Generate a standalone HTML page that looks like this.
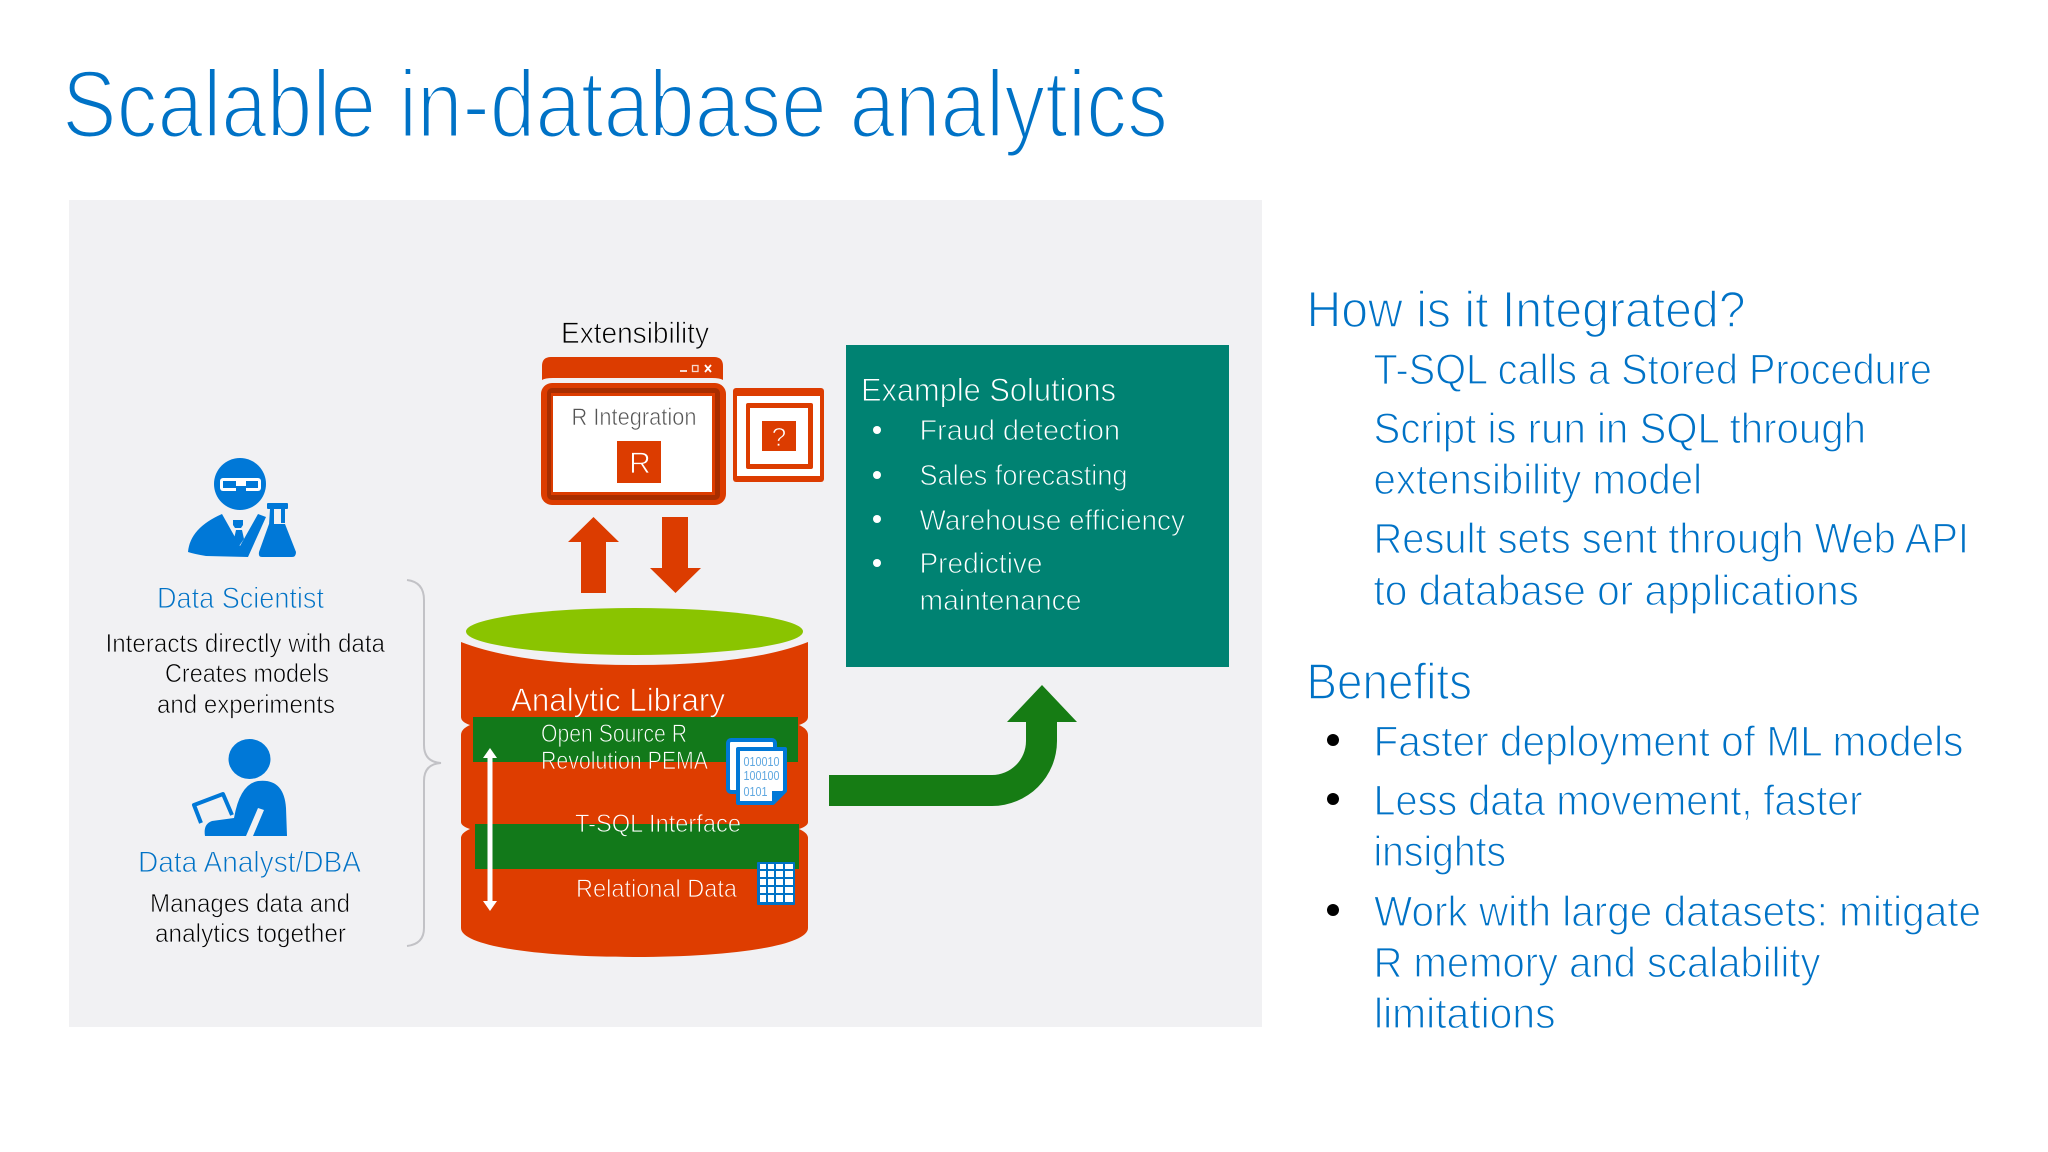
<!DOCTYPE html>
<html lang="en"><head><meta charset="utf-8"><title>Scalable in-database analytics</title>
<style>
html,body{margin:0;padding:0;background:#fff;width:2048px;height:1152px;overflow:hidden}
svg{display:block}
text{font-family:"Liberation Sans",Arial,sans-serif}
.t{fill:#0072C6;stroke:#fff;stroke-width:3px;font-size:96px}
.h{fill:#0072C6;stroke:#fff;stroke-width:1.5px;font-size:51px}
.b{fill:#0072C6;stroke:#fff;stroke-width:1.2px;font-size:43px}
.pb{fill:#0072C6;stroke:#F1F1F3;stroke-width:.9px;font-size:30px}
.pd{fill:#000;stroke:#F1F1F3;stroke-width:.7px;font-size:26px}
.g{fill:#fff;stroke:#008272;stroke-width:.9px}
.w{fill:#fff;stroke-width:.8px}
</style></head><body>
<svg width="2048" height="1152" viewBox="0 0 2048 1152" xmlns="http://www.w3.org/2000/svg">
<defs>
<linearGradient id="a" gradientUnits="userSpaceOnUse" x1="0" y1="680" x2="0" y2="730"><stop offset=".74" stop-color="#DE3D00"/><stop offset=".74" stop-color="#12791A"/></linearGradient>
<linearGradient id="r" gradientUnits="userSpaceOnUse" x1="0" y1="742" x2="0" y2="782"><stop offset=".5" stop-color="#12791A"/><stop offset=".5" stop-color="#DE3D00"/></linearGradient>
<linearGradient id="s" gradientUnits="userSpaceOnUse" x1="0" y1="804" x2="0" y2="844"><stop offset=".5" stop-color="#DE3D00"/><stop offset=".5" stop-color="#12791A"/></linearGradient>
</defs>
<rect width="2048" height="1152" fill="#fff"/>
<rect x="69" y="200" width="1193" height="827" fill="#F1F1F3"/>

<text class="t" x="62" y="137" textLength="1106" lengthAdjust="spacingAndGlyphs">Scalable in-database analytics</text>

<!-- right column -->
<text class="h" x="1306.500" y="327" textLength="439" lengthAdjust="spacingAndGlyphs">How is it Integrated?</text>
<text class="b" x="1373.500" y="384" textLength="558.500" lengthAdjust="spacingAndGlyphs">T-SQL calls a Stored Procedure</text>
<text class="b" x="1373.500" y="443" textLength="492.500" lengthAdjust="spacingAndGlyphs">Script is run in SQL through</text>
<text class="b" x="1373.500" y="494" textLength="328.500" lengthAdjust="spacingAndGlyphs">extensibility model</text>
<text class="b" x="1373.500" y="553" textLength="595.500" lengthAdjust="spacingAndGlyphs">Result sets sent through Web API</text>
<text class="b" x="1373.500" y="605" textLength="485.500" lengthAdjust="spacingAndGlyphs">to database or applications</text>
<text class="h" x="1306.500" y="699" textLength="165.500" lengthAdjust="spacingAndGlyphs">Benefits</text>
<circle cx="1333" cy="740" r="6" fill="#000"/>
<circle cx="1333" cy="799" r="6" fill="#000"/>
<circle cx="1333" cy="910" r="6" fill="#000"/>
<text class="b" x="1373.500" y="756" textLength="590" lengthAdjust="spacingAndGlyphs">Faster deployment of ML models</text>
<text class="b" x="1373.500" y="815" textLength="489" lengthAdjust="spacingAndGlyphs">Less data movement, faster</text>
<text class="b" x="1373.500" y="866" textLength="132.500" lengthAdjust="spacingAndGlyphs">insights</text>
<text class="b" x="1374" y="926" textLength="607" lengthAdjust="spacingAndGlyphs">Work with large datasets: mitigate</text>
<text class="b" x="1373.500" y="977" textLength="447" lengthAdjust="spacingAndGlyphs">R memory and scalability</text>
<text class="b" x="1374" y="1028" textLength="181.500" lengthAdjust="spacingAndGlyphs">limitations</text>

<!-- left persona: scientist -->
<circle cx="240" cy="484" r="26" fill="#0078D7"/>
<rect x="220" y="478" width="41" height="13" rx="3" fill="#fff"/>
<rect x="223" y="481" width="13" height="7" fill="#0078D7"/>
<rect x="246" y="481" width="12" height="7" fill="#0078D7"/>
<rect x="236" y="486" width="10" height="6" fill="#0078D7"/>
<path d="M222 514 L240 546 L258 514 L266 517 L248 557 L206 556 Q194 554 188 552 Q190 528 222 514Z" fill="#0078D7"/>
<path d="M233 520h10v5l-2 3h-6l-2-3Z" fill="#0078D7"/>
<path d="M236 530h6l2 9-5 7-5-7Z" fill="#0078D7"/>
<rect x="267" y="503" width="21" height="6" rx="1" fill="#0078D7"/>
<path d="M270 509 h4 v16 l-5 0Z M281 509 h4 v14 l-4 0Z" fill="#0078D7"/>
<path d="M269 524 L285 524 L296 552 Q296 557 292 557 L262 557 Q258 557 259 552Z" fill="#0078D7"/>

<text class="pb" x="157" y="608" textLength="167" lengthAdjust="spacingAndGlyphs">Data Scientist</text>
<text class="pd" x="105.500" y="652" textLength="279.500" lengthAdjust="spacingAndGlyphs">Interacts directly with data</text>
<text class="pd" x="165" y="682" textLength="164" lengthAdjust="spacingAndGlyphs">Creates models</text>
<text class="pd" x="157" y="713" textLength="178" lengthAdjust="spacingAndGlyphs">and experiments</text>

<!-- analyst -->
<ellipse cx="249.500" cy="759" rx="21" ry="20" fill="#0078D7"/>
<path d="M205 836 Q203 824 212 821 L234 818 Q240 784 258 781 Q284 778 286 808 L287 836 L253 836 L264 810 L258 808 L246 836Z" fill="#0078D7"/>
<path d="M232 815 L223 794 L194 805 L201 823" fill="none" stroke="#0078D7" stroke-width="4" stroke-linejoin="round"/>
<text class="pb" x="138" y="872" textLength="223" lengthAdjust="spacingAndGlyphs">Data Analyst/DBA</text>
<text class="pd" x="150" y="912" textLength="200" lengthAdjust="spacingAndGlyphs">Manages data and</text>
<text class="pd" x="155" y="942" textLength="191" lengthAdjust="spacingAndGlyphs">analytics together</text>

<!-- brace -->
<path d="M407 580 Q424 582 424 600 L424 745 Q424 762 441 763 Q424 764 424 781 L424 928 Q424 944 407 946" fill="none" stroke="#C2C2C6" stroke-width="2"/>

<!-- Extensibility -->
<text x="561" y="343" textLength="148" lengthAdjust="spacingAndGlyphs" font-size="30" fill="#000" stroke="#F1F1F3" stroke-width=".8">Extensibility</text>
<path d="M542 380 V366 Q542 357 551 357 H714 Q723 357 723 366 V380 Q720 378 712 378 H553 Q545 378 542 380Z" fill="#DC3C00"/>
<rect x="680" y="370" width="7" height="2" fill="#fff" opacity=".8"/>
<rect x="692.500" y="365.500" width="5.500" height="6" fill="none" stroke="#fff" stroke-width="1.300" opacity=".8"/>
<path d="M705 365l6 7M711 365l-6 7" stroke="#fff" stroke-width="1.800"/>
<rect x="541" y="383" width="185" height="122" rx="11" fill="#DC3C00"/>
<rect x="547" y="388" width="173" height="112" rx="5" fill="#A82E00"/>
<rect x="551" y="393" width="164" height="102" fill="#DC3C00"/>
<rect x="553" y="396" width="159" height="96" fill="#fff"/>
<text x="571.500" y="425" textLength="125" lengthAdjust="spacingAndGlyphs" font-size="24" fill="#555" stroke="#fff" stroke-width=".6">R Integration</text>
<rect x="617" y="441" width="44" height="42" fill="#DC3C00"/>
<text x="640" y="473" text-anchor="middle" font-size="30" fill="#fff" stroke="#DC3C00" stroke-width=".8">R</text>

<rect x="733" y="388" width="91" height="94" rx="3" fill="#DC3C00"/>
<rect x="737" y="396" width="83" height="80" fill="#fff"/>
<rect x="746" y="403" width="67" height="66" rx="2" fill="#DC3C00"/>
<rect x="750" y="408" width="58" height="56" fill="#fff"/>
<rect x="762" y="421" width="34" height="30" fill="#DC3C00"/>
<text x="779" y="446" text-anchor="middle" font-size="26" fill="#fff" stroke="#DC3C00" stroke-width=".7">?</text>

<path d="M593.500 517 L619 542 H606 V593 H581 V542 H568Z" fill="#DC3C00"/>
<path d="M662 517 H688 V568 H701 L675.500 593 L650 568 H662Z" fill="#DC3C00"/>

<!-- database -->
<path d="M461 642 Q520 665 634 665 Q750 665 808 642 V717 Q808 722 799 725 Q808 729 808 735 V822 Q808 826 799 829 Q808 833 808 838 V928 C808 946 730 957 634 957 C538 957 461 946 461 928 V838 Q461 833 470 829 Q461 826 461 822 V735 Q461 729 470 725 Q461 722 461 717Z" fill="#DE3D00"/>
<ellipse cx="634.500" cy="631.500" rx="168.500" ry="23.500" fill="#8AC400"/>
<rect x="473" y="717" width="325" height="45" fill="#12791A"/>
<rect x="475" y="824" width="324" height="45" fill="#12791A"/>

<text class="w" x="511" y="711" textLength="214" lengthAdjust="spacingAndGlyphs" font-size="32" stroke="url(#a)">Analytic Library</text>
<text class="w" x="541" y="742" textLength="146" lengthAdjust="spacingAndGlyphs" font-size="25" stroke="#12791A">Open Source R</text>
<text class="w" x="541" y="769" textLength="167" lengthAdjust="spacingAndGlyphs" font-size="25" stroke="url(#r)">Revolution PEMA</text>
<text class="w" x="575" y="832" textLength="166" lengthAdjust="spacingAndGlyphs" font-size="25" stroke="url(#s)">T-SQL Interface</text>
<text class="w" x="576" y="897" textLength="161" lengthAdjust="spacingAndGlyphs" font-size="25" stroke="#DE3D00">Relational Data</text>

<!-- double arrow -->
<path d="M490 748 L497 758 H492.500 V901 H497 L490 911 L483 901 H487.500 V758 H483Z" fill="#fff"/>

<!-- doc icon -->
<rect x="728" y="740" width="47" height="52" rx="3" fill="#fff" stroke="#0078D7" stroke-width="4"/>
<path d="M738 749 H785 V791 L773 803 H738Z" fill="#fff" stroke="#0078D7" stroke-width="4" stroke-linejoin="round"/>
<text x="743.500" y="766" textLength="36" lengthAdjust="spacingAndGlyphs" font-size="13" fill="#5FA8E0">010010</text>
<text x="743.500" y="780" textLength="36" lengthAdjust="spacingAndGlyphs" font-size="13" fill="#5FA8E0">100100</text>
<text x="743.500" y="796" textLength="24" lengthAdjust="spacingAndGlyphs" font-size="13" fill="#5FA8E0">0101</text>
<path d="M772 803 V791 H786Z" fill="#0078D7"/>

<!-- table icon -->
<rect x="757" y="862" width="38" height="43" rx="1" fill="#0072C6"/>
<g fill="#fff">
<rect x="760" y="864" width="6" height="5"/><rect x="768" y="864" width="6" height="5"/><rect x="776" y="864" width="7" height="5"/><rect x="785" y="864" width="8" height="5"/>
<rect x="760" y="871" width="6" height="6"/><rect x="768" y="871" width="6" height="6"/><rect x="776" y="871" width="7" height="6"/><rect x="785" y="871" width="8" height="6"/>
<rect x="760" y="879" width="6" height="6"/><rect x="768" y="879" width="6" height="6"/><rect x="776" y="879" width="7" height="6"/><rect x="785" y="879" width="8" height="6"/>
<rect x="760" y="887" width="6" height="6"/><rect x="768" y="887" width="6" height="6"/><rect x="776" y="887" width="7" height="6"/><rect x="785" y="887" width="8" height="6"/>
<rect x="760" y="895" width="6" height="7"/><rect x="768" y="895" width="6" height="7"/><rect x="776" y="895" width="7" height="7"/><rect x="785" y="895" width="8" height="7"/>
</g>

<!-- teal box -->
<rect x="846" y="345" width="383" height="322" fill="#008272"/>
<text class="g" x="861" y="401" textLength="255" lengthAdjust="spacingAndGlyphs" font-size="32">Example Solutions</text>
<circle cx="877" cy="430" r="4" fill="#fff"/><circle cx="877" cy="475" r="4" fill="#fff"/><circle cx="877" cy="519" r="4" fill="#fff"/><circle cx="877" cy="563" r="4" fill="#fff"/>
<text class="g" x="919.500" y="440" textLength="200.500" lengthAdjust="spacingAndGlyphs" font-size="29">Fraud detection</text>
<text class="g" x="919.500" y="485" textLength="208" lengthAdjust="spacingAndGlyphs" font-size="29">Sales forecasting</text>
<text class="g" x="919.500" y="530" textLength="265.500" lengthAdjust="spacingAndGlyphs" font-size="29">Warehouse efficiency</text>
<text class="g" x="919.500" y="573" textLength="123" lengthAdjust="spacingAndGlyphs" font-size="29">Predictive</text>
<text class="g" x="919.500" y="610" textLength="162" lengthAdjust="spacingAndGlyphs" font-size="29">maintenance</text>

<!-- green arrow -->
<path d="M829 775 H992 A34 34 0 0 0 1026 741 V722 H1007 L1042 685 L1077 722 H1057 V741 A65 65 0 0 1 992 806 H829Z" fill="#167C14"/>
</svg>
</body></html>
